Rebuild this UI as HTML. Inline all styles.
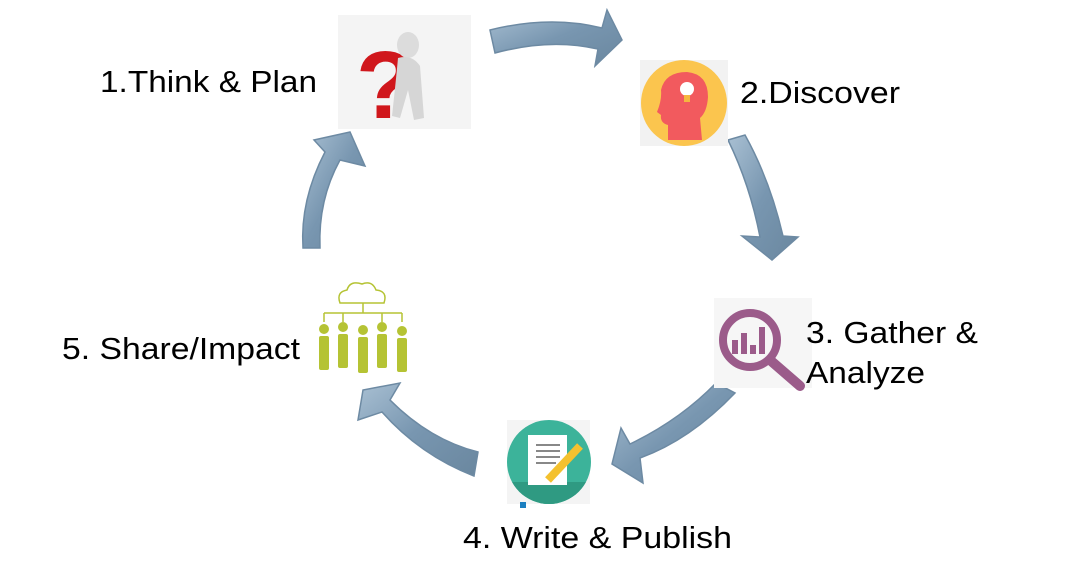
<!DOCTYPE html>
<html><head><meta charset="utf-8"><style>
html,body{margin:0;padding:0;background:#fff;width:1080px;height:580px;overflow:hidden}
svg{display:block}
text{font-family:"Liberation Sans",Arial,sans-serif;font-size:31px;fill:#000}
</style></head><body>
<svg width="1080" height="580" viewBox="0 0 1080 580" xmlns="http://www.w3.org/2000/svg">
<defs>
<linearGradient id="ag" x1="0" y1="0" x2="1" y2="1">
<stop offset="0" stop-color="#a9c0d3"/><stop offset="0.5" stop-color="#7896b0"/><stop offset="1" stop-color="#6a879f"/>
</linearGradient>
<clipPath id="cc"><circle cx="549" cy="462" r="42"/></clipPath>
</defs>
<g fill="url(#ag)" stroke="#6d8aa3" stroke-width="1.5">
<path d="M490,30 Q550,15 602,28 L607,10 L622,40 L595,66 L598,49 Q550,38 495,53 Z"/>
<path d="M728,140 L745,135 Q770,180 783,236 L798,237 L772,260 L742,236 L760,237 Q750,185 728,140 Z"/>
<path d="M716,383 L735,393 Q690,440 640,458 L643,483 L612,464 L621,428 L630,444 Q680,420 716,383 Z"/>
<path d="M478,452 L474,476 Q420,455 382,412 L358,420 L363,390 L400,383 L390,400 Q430,440 478,452 Z"/>
<path d="M303,248 L320,248 Q318,200 340,160 L365,166 L350,132 L314,140 L325,152 Q300,200 303,248 Z"/>
</g>

<rect x="338" y="15" width="133" height="114" fill="#f4f4f4"/>
<text x="356" y="118" style="font-size:96px;font-weight:bold;fill:#d0171c">?</text>
<ellipse cx="408" cy="45" rx="11" ry="13" fill="#dcdcdc"/>
<path d="M398,58 Q412,54 420,66 L424,118 L414,120 L408,90 L400,118 L392,116 Q396,80 398,58 Z" fill="#d6d6d6"/>

<rect x="640" y="60" width="88" height="86" fill="#f2f2f2"/>
<circle cx="684" cy="103" r="43" fill="#fbc54e"/>
<path d="M668,140 L668,125 Q660,123 661,115 L657,112 Q662,100 661,90 Q665,72 687,72 Q708,74 708,97 Q707,112 700,118 L702,140 Z" fill="#f25a5e"/>
<circle cx="687" cy="89" r="7" fill="#fff"/>
<rect x="684" y="95" width="6" height="7" fill="#f5b63f"/>

<rect x="714" y="298" width="98" height="90" fill="#f6f6f6"/>
<circle cx="750" cy="340" r="27" fill="none" stroke="#9b5b8a" stroke-width="8"/>
<line x1="770" y1="360" x2="800" y2="386" stroke="#9b5b8a" stroke-width="10" stroke-linecap="round"/>
<rect x="732" y="340" width="6" height="14" fill="#9b5b8a"/>
<rect x="741" y="333" width="6" height="21" fill="#9b5b8a"/>
<rect x="750" y="345" width="6" height="9" fill="#9b5b8a"/>
<rect x="759" y="327" width="6" height="27" fill="#9b5b8a"/>

<rect x="507" y="420" width="83" height="84" fill="#f4f4f4"/>
<circle cx="549" cy="462" r="42" fill="#3cb39a"/>
<rect x="507" y="482" width="84" height="30" fill="#2f9a82" clip-path="url(#cc)"/>
<rect x="528" y="435" width="39" height="50" fill="#fff"/>
<g stroke="#888" stroke-width="2"><line x1="536" y1="445" x2="560" y2="445"/><line x1="536" y1="451" x2="560" y2="451"/><line x1="536" y1="457" x2="560" y2="457"/><line x1="536" y1="463" x2="556" y2="463"/></g>
<line x1="548" y1="480" x2="580" y2="446" stroke="#f4c12e" stroke-width="8"/>
<rect x="520" y="502" width="6" height="6" fill="#1c7fc0"/>

<g fill="none" stroke="#b5c334" stroke-width="1.5">
<path d="M340,303 Q336,292 347,290 Q350,280 362,284 Q372,280 376,290 Q388,291 384,303 Z"/>
<line x1="363" y1="303" x2="363" y2="313"/>
<line x1="324" y1="313" x2="402" y2="313"/>
<line x1="324" y1="313" x2="324" y2="322"/><line x1="343" y1="313" x2="343" y2="322"/><line x1="382" y1="313" x2="382" y2="322"/><line x1="402" y1="313" x2="402" y2="322"/>
</g>
<g fill="#b5c334">
<circle cx="324" cy="329" r="5"/><rect x="319" y="336" width="10" height="34" rx="2"/>
<circle cx="343" cy="327" r="5"/><rect x="338" y="334" width="10" height="34" rx="2"/>
<circle cx="363" cy="330" r="5"/><rect x="358" y="337" width="10" height="36" rx="2"/>
<circle cx="382" cy="327" r="5"/><rect x="377" y="334" width="10" height="34" rx="2"/>
<circle cx="402" cy="331" r="5"/><rect x="397" y="338" width="10" height="34" rx="2"/>
</g>

<text x="100" y="92" textLength="217" lengthAdjust="spacingAndGlyphs">1.Think &amp; Plan</text>
<text x="740" y="103" textLength="160" lengthAdjust="spacingAndGlyphs">2.Discover</text>
<text x="806" y="343" textLength="172" lengthAdjust="spacingAndGlyphs">3. Gather &amp;</text>
<text x="806" y="383" textLength="119" lengthAdjust="spacingAndGlyphs">Analyze</text>
<text x="62" y="359" textLength="238" lengthAdjust="spacingAndGlyphs">5. Share/Impact</text>
<text x="463" y="548" textLength="269" lengthAdjust="spacingAndGlyphs">4. Write &amp; Publish</text>
</svg>
</body></html>
